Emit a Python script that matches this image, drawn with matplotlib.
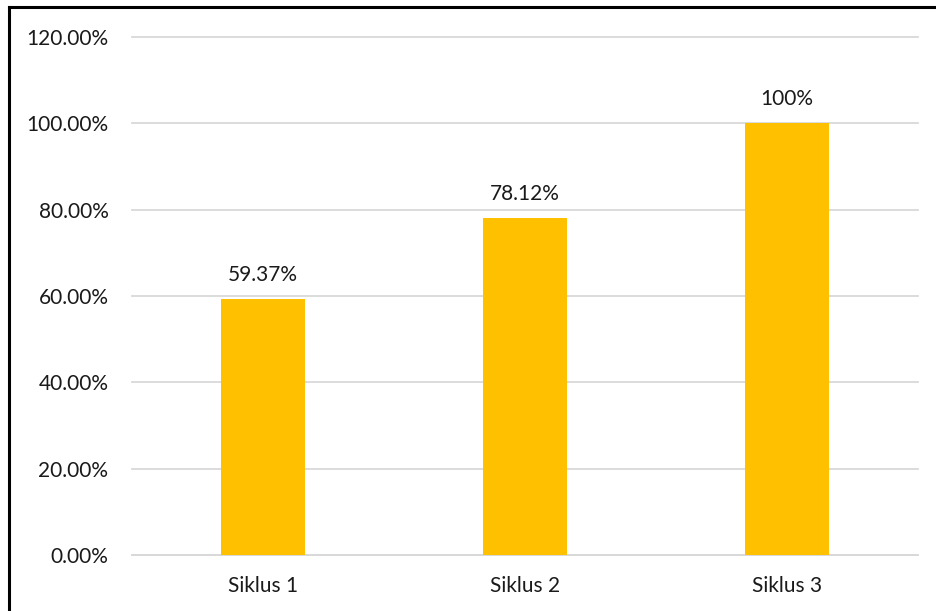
import matplotlib.pyplot as plt
from matplotlib.lines import Line2D

# Chart data
categories = ['Siklus 1', 'Siklus 2', 'Siklus 3']
values = [59.37, 78.12, 100.0]
value_labels = ['59.37%', '78.12%', '100%']
y_ticks = [0, 20, 40, 60, 80, 100, 120]

plt.rcParams['font.family'] = ['Lato', 'DejaVu Sans']

fig = plt.figure(figsize=(9.36, 6.11), dpi=100)
ax = fig.add_axes([132 / 936, 1 - 555 / 611, (918 - 132) / 936, (555 - 37) / 611])

x = range(len(categories))
bars = ax.bar(x, values, width=0.317, color='#FFC000', zorder=3)

for bar, lab in zip(bars, value_labels):
    ax.annotate(lab, (bar.get_x() + bar.get_width() / 2, bar.get_height()),
                xytext=(0, 10), textcoords='offset points',
                ha='center', va='bottom', fontsize=15, color='#1a1a1a')

ax.set_xlim(-0.5, len(categories) - 0.5)
ax.set_ylim(0, 120)
ax.set_yticks(y_ticks)
ax.set_yticklabels([f'{t:.2f}%' for t in y_ticks])
ax.set_xticks(list(x))
ax.set_xticklabels(categories)
ax.tick_params(axis='both', length=0, labelsize=15, colors='#1a1a1a')
ax.tick_params(axis='y', pad=17)
ax.tick_params(axis='x', pad=15)

ax.grid(axis='y', color='#D9D9D9', linewidth=1.3, zorder=0)
for gl in ax.get_ygridlines():
    gl.set_clip_on(False)
for side in ['top', 'right', 'left']:
    ax.spines[side].set_visible(False)
ax.spines['bottom'].set_color('#D9D9D9')
ax.spines['bottom'].set_linewidth(1.3)

# outer frame (only top and left visible in the crop)
fig.add_artist(Line2D([9 / 936, 9 / 936], [0, 1 - 7 / 611], color='black', linewidth=2.2,
                      transform=fig.transFigure))
fig.add_artist(Line2D([9 / 936, 1], [1 - 7 / 611, 1 - 7 / 611], color='black', linewidth=2.2,
                      transform=fig.transFigure))

fig.savefig('out.png', dpi=100)
